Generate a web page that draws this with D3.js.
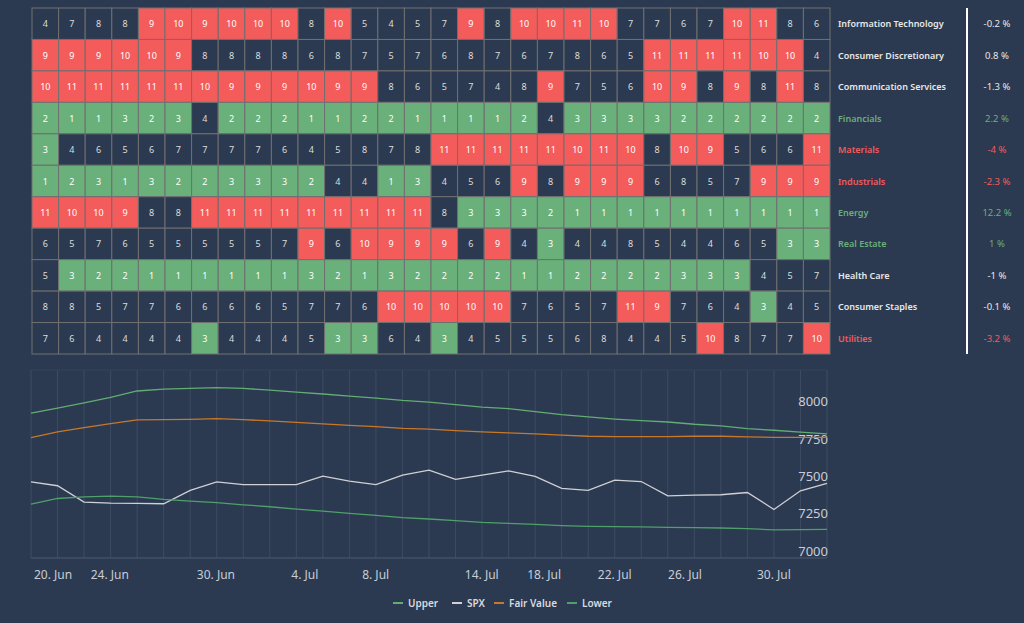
<!DOCTYPE html><html><head><meta charset="utf-8">
<script src="https://cdn.jsdelivr.net/npm/d3@7"></script>
<style>body{margin:0;background:#2b3a50;}svg{display:block;font-family:"Noto Sans",Roboto,sans-serif;}</style></head><body>
<svg id="c" width="1024" height="623"></svg>
<script>
const sectors=["Information Technology","Consumer Discretionary","Communication Services","Financials","Materials","Industrials","Energy","Real Estate","Health Care","Consumer Staples","Utilities"];
const changes=["-0.2 %","0.8 %","-1.3 %","2.2 %","-4 %","-2.3 %","12.2 %","1 %","-1 %","-0.1 %","-3.2 %"];
const changeColor=["w","w","w","g","r","r","g","g","w","w","r"];
const ranks=[
[4,7,8,8,9,10,9,10,10,10,8,10,5,4,5,7,9,8,10,10,11,10,7,7,6,7,10,11,8,6],
[9,9,9,10,10,9,8,8,8,8,6,8,7,5,7,6,8,7,6,7,8,6,5,11,11,11,11,10,10,4],
[10,11,11,11,11,11,10,9,9,9,10,9,9,8,6,5,7,4,8,9,7,5,6,10,9,8,9,8,11,8],
[2,1,1,3,2,3,4,2,2,2,1,1,2,2,1,1,1,1,2,4,3,3,3,3,2,2,2,2,2,2],
[3,4,6,5,6,7,7,7,7,6,4,5,8,7,8,11,11,11,11,11,10,11,10,8,10,9,5,6,6,11],
[1,2,3,1,3,2,2,3,3,3,2,4,4,1,3,4,5,6,9,8,9,9,9,6,8,5,7,9,9,9],
[11,10,10,9,8,8,11,11,11,11,11,11,11,11,11,8,3,3,3,2,1,1,1,1,1,1,1,1,1,1],
[6,5,7,6,5,5,5,5,5,7,9,6,10,9,9,9,6,9,4,3,4,4,8,5,4,4,6,5,3,3],
[5,3,2,2,1,1,1,1,1,1,3,2,1,3,2,2,2,2,1,1,2,2,2,2,3,3,3,4,5,7],
[8,8,5,7,7,6,6,6,6,5,7,7,6,10,10,10,10,10,7,6,5,7,11,9,7,6,4,3,4,5],
[7,6,4,4,4,4,3,4,4,4,5,3,3,6,4,3,4,5,5,5,6,8,4,4,5,10,8,7,7,10]];
const upper=[7920,7953,7987,8024,8067,8080,8084,8089,8084,8073,8060,8047,8033,8020,8004,7993,7976,7960,7949,7929,7909,7894,7880,7869,7860,7845,7834,7816,7805,7792,7781];
const spx=[7461,7435,7326,7319,7317,7315,7404,7461,7443,7443,7443,7499,7466,7443,7506,7539,7477,7506,7534,7497,7417,7404,7472,7463,7368,7372,7375,7390,7277,7401,7450];
const fair=[7756,7794,7823,7849,7874,7876,7878,7882,7876,7867,7858,7847,7838,7829,7818,7812,7803,7794,7787,7781,7772,7765,7763,7763,7763,7765,7765,7761,7758,7758,7758];
const lower=[7313,7350,7361,7366,7361,7344,7333,7322,7308,7295,7279,7266,7251,7237,7222,7213,7202,7191,7184,7177,7169,7164,7162,7160,7157,7155,7153,7149,7140,7142,7144];
const xTickLabels=["20. Jun","24. Jun","30. Jun","4. Jul","8. Jul","14. Jul","18. Jul","22. Jul","26. Jul","30. Jul"];
const xTickPos=[0.83,2.97,6.97,10.32,12.99,16.99,19.34,22.0,24.65,28.0];
const yTicks=[7000,7250,7500,7750,8000];

const RED="#f45b5b",GREEN="#6ab07a",BG="#2b3a50";
const svg=d3.select("#c");
const x=d3.scaleBand().domain(d3.range(30)).range([32,830]);
const y=d3.scaleBand().domain(d3.range(11)).range([8,354]);
const col=v=>v>=9?RED:v<=3?GREEN:BG;
const g=svg.append("g");
ranks.forEach((row,r)=>row.forEach((v,c)=>{
  g.append("rect").attr("x",x(c)).attr("y",y(r)).attr("width",x.bandwidth()).attr("height",y.bandwidth())
   .attr("fill",col(v)).attr("stroke","#707070").attr("stroke-width",1);
  g.append("text").attr("x",x(c)+x.bandwidth()/2).attr("y",y(r)+y.bandwidth()/2+3.5).attr("text-anchor","middle")
   .attr("font-size",9).attr("fill",v>=9||v<=3?"#fff":"#ddd").text(v);
}));
const tc=c=>c==="g"?GREEN:c==="r"?RED:"#e8e8e8";
sectors.forEach((s,i)=>{
  svg.append("text").attr("x",838).attr("y",y(i)+y.bandwidth()/2+3.5).attr("font-size",9).attr("font-weight",600)
   .attr("textLength",null).attr("fill",tc(changeColor[i])).text(s);
  svg.append("text").attr("x",997).attr("y",y(i)+y.bandwidth()/2+3.5).attr("font-size",9.5).attr("text-anchor","middle")
   .attr("fill",tc(changeColor[i])).text(changes[i]);
});
svg.append("line").attr("x1",967).attr("x2",967).attr("y1",8).attr("y2",354).attr("stroke","#fff").attr("stroke-width",2);

const lx=d3.scaleLinear().domain([0,30]).range([31,827]);
const ly=d3.scaleLinear().domain([6953,8207]).range([558,370]);
const lg=svg.append("g");
d3.range(31).forEach(i=>lg.append("line").attr("x1",lx(i)).attr("x2",lx(i)).attr("y1",370).attr("y2",558).attr("stroke","#3d4c63").attr("stroke-width",1));
lg.append("line").attr("x1",31).attr("x2",827).attr("y1",558).attr("y2",558).attr("stroke","#4a5a72");
lg.append("line").attr("x1",31).attr("x2",827).attr("y1",370).attr("y2",370).attr("stroke","#34435a");
yTicks.forEach(t=>lg.append("text").attr("x",828).attr("y",ly(t)+5).attr("text-anchor","end").attr("font-size",13).attr("fill","#c8cdd6").text(t));
xTickLabels.forEach((t,i)=>lg.append("text").attr("x",lx(xTickPos[i])).attr("y",579).attr("text-anchor","middle").attr("font-size",12).attr("fill","#c8cdd6").text(t));
const line=d3.line().x((d,i)=>lx(i)).y(d=>ly(d));
const series=[["Upper",upper,"#62ad72"],["SPX",spx,"#d0d0d6"],["Fair Value",fair,"#c8782a"],["Lower",lower,"#4fa06a"]];
series.forEach(s=>lg.append("path").datum(s[1]).attr("d",line).attr("fill","none").attr("stroke",s[2]).attr("stroke-width",1.3));
const legX=[393,452,494,567];
series.forEach((s,i)=>{
  svg.append("line").attr("x1",legX[i]).attr("x2",legX[i]+10).attr("y1",603).attr("y2",603).attr("stroke",s[2]).attr("stroke-width",2);
  svg.append("text").attr("x",legX[i]+15).attr("y",606.5).attr("font-size",10).attr("font-weight",600).attr("fill","#d8dbe0").text(s[0]);
});
</script></body></html>
